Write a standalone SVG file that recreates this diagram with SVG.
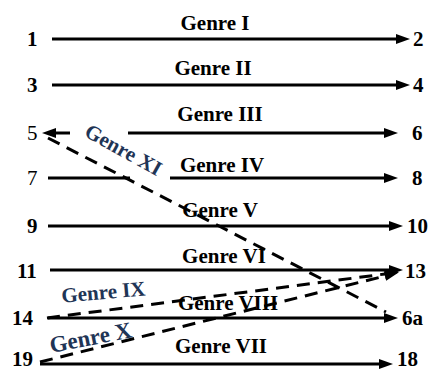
<svg xmlns="http://www.w3.org/2000/svg" width="433" height="371" viewBox="0 0 433 371">
<style>
.n{font-family:"Liberation Serif","Times New Roman",serif;font-weight:bold;font-size:21px;fill:#000}
.r{font-weight:normal}
.g{font-family:"Liberation Serif","Times New Roman",serif;font-weight:bold;font-size:21px;fill:#000;text-anchor:middle}
.b{fill:#1f3556}
.s{stroke:#000;stroke-width:3;fill:none}
.d{stroke:#000;stroke-width:3;fill:none;stroke-dasharray:13 8}
</style>
<defs>
<marker id="ah" markerWidth="14" markerHeight="10" refX="0" refY="5" orient="auto-start-reverse" markerUnits="userSpaceOnUse" overflow="visible">
<path d="M0,0 L14,5 L0,10 z" fill="#000"/>
</marker>
</defs>
<rect width="433" height="371" fill="#fff"/>
<g id="connectors">
<line class="s" x1="52" y1="39" x2="396" y2="39" marker-end="url(#ah)"/>
<line class="s" x1="52" y1="85" x2="396" y2="85" marker-end="url(#ah)"/>
<line class="s" x1="56" y1="133" x2="70" y2="133" marker-start="url(#ah)"/>
<line class="s" x1="128" y1="133" x2="384" y2="133" marker-end="url(#ah)"/>
<line class="s" x1="48" y1="178" x2="130" y2="178"/>
<line class="s" x1="170" y1="178" x2="384" y2="178" marker-end="url(#ah)"/>
<line class="s" x1="48" y1="226" x2="389" y2="226" marker-end="url(#ah)"/>
<line class="s" x1="50" y1="270" x2="389" y2="270" marker-end="url(#ah)"/>
<line class="s" x1="48" y1="318" x2="384" y2="318" marker-end="url(#ah)"/>
<line class="s" x1="40" y1="364" x2="379" y2="364" marker-end="url(#ah)"/>
<line class="d" x1="48" y1="138" x2="386" y2="312"/>
<line class="d" x1="47" y1="318" x2="385" y2="274" marker-end="url(#ah)"/>
<line class="d" x1="40" y1="362" x2="385" y2="276" marker-end="url(#ah)"/>
<text class="g" x="215" y="30">Genre I</text>
<text class="g" x="213" y="75">Genre II</text>
<text class="g" x="220" y="121">Genre III</text>
<text class="g" x="222" y="172">Genre IV</text>
<text class="g" x="220" y="217">Genre V</text>
<text class="g" x="224" y="263">Genre VI</text>
<text class="g" x="228" y="310">Genre VIII</text>
<text class="g" x="221" y="353">Genre VII</text>
<text class="g b" transform="translate(104,299) rotate(-5)">Genre IX</text>
<text class="g b" style="font-size:23px" transform="translate(92,345) rotate(-11)">Genre X</text>
<text class="g b" transform="translate(120,156) rotate(29)">Genre XI</text>
</g>
<g id="n1"><text class="n" x="27" y="46">1</text></g>
<g id="n2"><text class="n" x="413" y="46">2</text></g>
<g id="n3"><text class="n" x="27" y="92">3</text></g>
<g id="n4"><text class="n" x="413" y="92">4</text></g>
<g id="n5"><text class="n r" x="27" y="140">5</text></g>
<g id="n6"><text class="n" x="412" y="140">6</text></g>
<g id="n7"><text class="n r" x="27" y="185">7</text></g>
<g id="n8"><text class="n" x="412" y="185">8</text></g>
<g id="n9"><text class="n" x="27" y="233">9</text></g>
<g id="n10"><text class="n" x="407" y="233">10</text></g>
<g id="n11"><text class="n" x="17" y="278">11</text></g>
<g id="n13"><text class="n" x="405" y="278">13</text></g>
<g id="n14"><text class="n" x="12" y="325">14</text></g>
<g id="n6a"><text class="n" x="402" y="325">6a</text></g>
<g id="n19"><text class="n" x="12" y="366">19</text></g>
<g id="n18"><text class="n" x="397" y="366">18</text></g>
</svg>
